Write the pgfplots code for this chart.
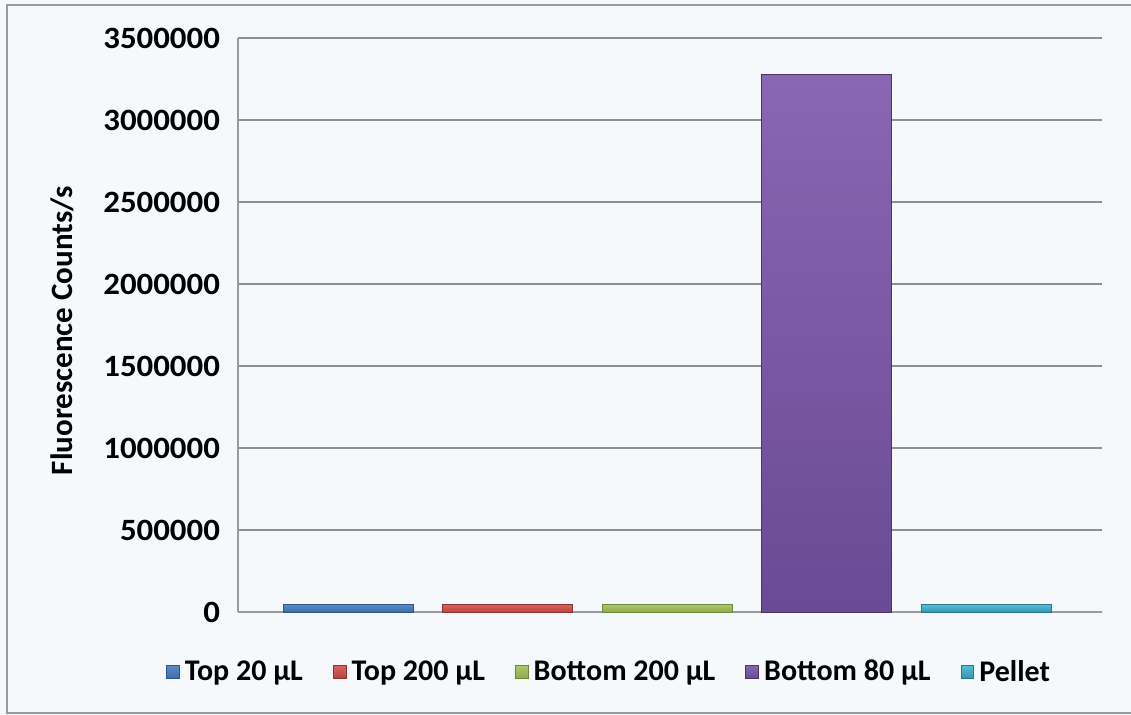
\documentclass[border=0pt]{standalone}
\usepackage{pgfplots}
\pgfplotsset{compat=1.18}
\usepackage{fontspec}
\setmainfont{Carlito}
\newfontfamily\wide[FakeStretch=1.06]{Carlito}

\definecolor{bg}{HTML}{F6F9FC}
\definecolor{frame}{HTML}{9A9A9A}
\definecolor{gridc}{HTML}{8E8E8E}
% bar colours: light (top) / dark (bottom) / edge
\definecolor{blueT}{HTML}{5A8CCB}\definecolor{blueB}{HTML}{3C6CA6}\definecolor{blueE}{HTML}{2E5585}
\definecolor{redT}{HTML}{D8625E}\definecolor{redB}{HTML}{B8443F}\definecolor{redE}{HTML}{8E3330}
\definecolor{grnT}{HTML}{ABC86A}\definecolor{grnB}{HTML}{8DAA4C}\definecolor{grnE}{HTML}{6F8A38}
\definecolor{purT}{HTML}{8B66B2}\definecolor{purB}{HTML}{6A4A94}\definecolor{purE}{HTML}{4A3468}
\definecolor{cyaT}{HTML}{58BCD6}\definecolor{cyaB}{HTML}{3497B2}\definecolor{cyaE}{HTML}{25788E}

\begin{document}
\begin{tikzpicture}
\useasboundingbox (0pt,0pt) rectangle (565.5pt,357.5pt);
\fill[bg] (0pt,0pt) rectangle (565.5pt,357.5pt);
\draw[frame, line width=0.9pt] (3.5pt,1pt) rectangle (570pt,355pt);
\begin{axis}[
  at={(119pt,51.5pt)}, anchor=south west,
  scale only axis, width=432pt, height=287pt,
  xmin=-0.69, xmax=4.727, ymin=0, ymax=3500000,
  xtick=\empty,
  ytick={0,500000,...,3500000},
  scaled y ticks=false,
  yticklabel style={/pgf/number format/fixed, /pgf/number format/1000 sep={},
    /pgf/number format/assume math mode=true,
    font=\wide\bfseries\fontsize{15.5}{18}\selectfont, xshift=-5.5pt},
  axis x line*=bottom, axis y line*=left,
  axis line style={frame, line width=0.9pt},
  major tick length=0pt,
  ymajorgrids, grid style={gridc, line width=0.9pt},
  ylabel={Fluorescence Counts/s},
  ylabel style={font=\bfseries\fontsize{15.5}{18}\selectfont,
    at={(axis description cs:-0.2037,0.49)}, anchor=center},
  legend columns=5,
  legend style={at={(axis description cs:0.4306,-0.1045)}, anchor=center,
    draw=none, fill=none, font=\bfseries\fontsize{15}{18}\selectfont,
    /tikz/every even column/.append style={column sep=13pt},
    /tikz/every odd column/.append style={column sep=0.5pt}},
  legend image code/.code={\draw[#1,/tikz/.cd,line width=0.5pt] (0pt,-3.2pt) rectangle (6.4pt,3.2pt);},
  clip=false,
]
\addplot[ybar, bar width=65pt, bar shift=0pt, draw=blueE, top color=blueT, bottom color=blueB] coordinates {(0,45000)};
\addlegendentry{Top 20 µL}
\addplot[ybar, bar width=65pt, bar shift=0pt, draw=redE, top color=redT, bottom color=redB] coordinates {(1,45000)};
\addlegendentry{Top 200 µL}
\addplot[ybar, bar width=65pt, bar shift=0pt, draw=grnE, top color=grnT, bottom color=grnB] coordinates {(2,45000)};
\addlegendentry{Bottom 200 µL}
\addplot[ybar, bar width=65pt, bar shift=0pt, draw=purE, top color=purT, bottom color=purB] coordinates {(3,3280000)};
\addlegendentry{Bottom 80 µL}
\addplot[ybar, bar width=65pt, bar shift=0pt, draw=cyaE, top color=cyaT, bottom color=cyaB] coordinates {(4,45000)};
\addlegendentry{Pellet}
\end{axis}
\end{tikzpicture}
\end{document}
